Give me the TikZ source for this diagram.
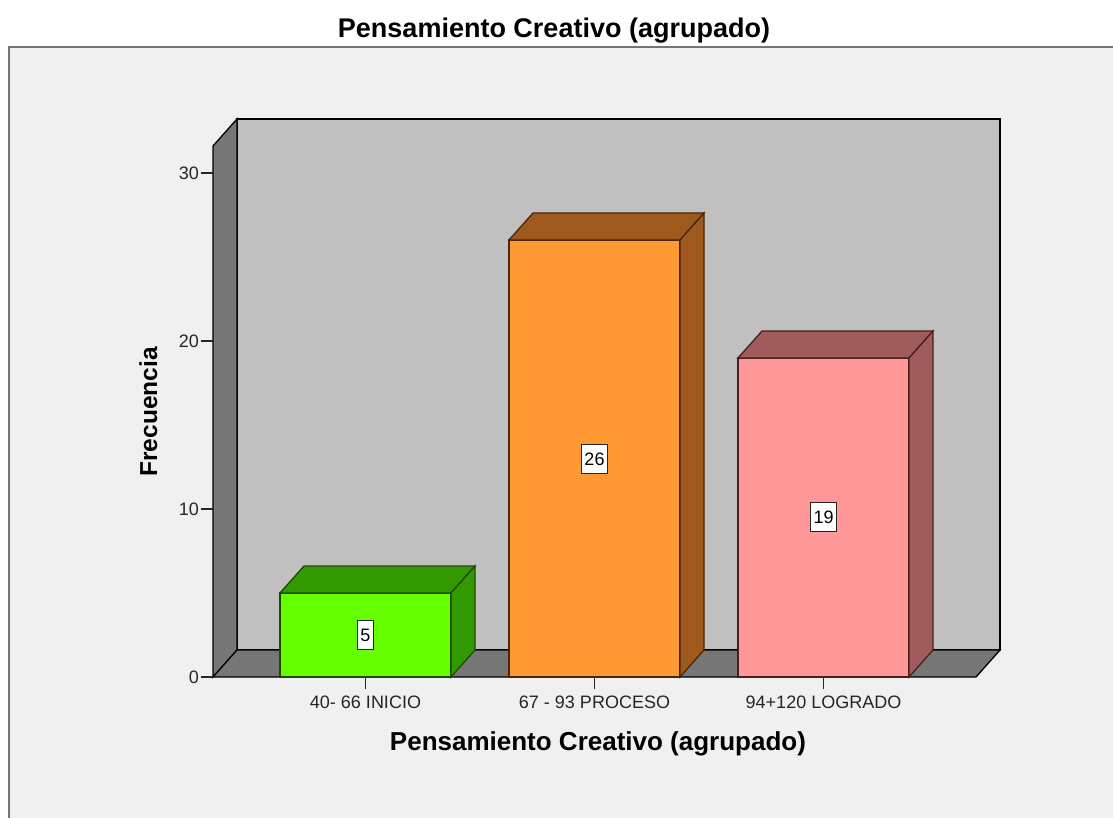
\documentclass[tikz,border=0pt]{standalone}
\usepackage{fontspec}
\setmainfont{Liberation Sans}
\definecolor{bgc}{HTML}{F0F0F0}
\definecolor{framec}{HTML}{747474}
\definecolor{wallc}{HTML}{C0C0C0}
\definecolor{sidewallc}{HTML}{777777}
\definecolor{gfront}{HTML}{66FF00}
\definecolor{gdark}{HTML}{339900}
\definecolor{gline}{HTML}{1E4A00}
\definecolor{ofront}{HTML}{FF9933}
\definecolor{odark}{HTML}{9E5A1E}
\definecolor{oline}{HTML}{4A2608}
\definecolor{pfront}{HTML}{FF9999}
\definecolor{pdark}{HTML}{A05C5C}
\definecolor{pline}{HTML}{4A1E1E}
\tikzset{
  wallline/.style={draw=black, line width=1.3pt, line join=miter},
  ticklab/.style={font=\fontsize{18}{20}\selectfont, text=black!85, inner sep=0pt},
  vallab/.style={draw=black!85, line width=1.6pt, fill=white, font=\fontsize{18}{20}\selectfont, inner xsep=3pt, inner ysep=0pt, minimum height=29pt},
  ttl/.style={font=\bfseries\fontsize{27}{30}\selectfont, inner sep=0pt},
}
\newcommand{\mybar}[5]{%
  % #1 x0, #2 top y, #3 front, #4 dark, #5 line
  \filldraw[fill=#3, draw=#5, line width=1.3pt, line join=miter] (#1,#2) rectangle (#1+171,677);
  \filldraw[fill=#4, draw=#5, line width=1.3pt, line join=miter] (#1,#2) -- (#1+24,#2-27) -- (#1+195,#2-27) -- (#1+171,#2) -- cycle;
  \filldraw[fill=#4, draw=#5, line width=1.3pt, line join=miter] (#1+171,#2) -- (#1+195,#2-27) -- (#1+195,650) -- (#1+171,677) -- cycle;
}
\begin{document}
\begin{tikzpicture}[x=1pt,y=-1pt]
\useasboundingbox (0,0) rectangle (1113,818);
\fill[white] (0,0) rectangle (1113,818);
% outer frame
\fill[bgc] (9,47) rectangle (1120,830);
\draw[framec, line width=2.2pt] (9,830) -- (9,47) -- (1120,47);
% walls
\filldraw[fill=wallc, wallline] (237,119) rectangle (1000,650);
\filldraw[fill=sidewallc, wallline] (213,677) -- (213,146) -- (237,119) -- (237,650) -- cycle;
\filldraw[fill=sidewallc, wallline] (213,677) -- (237,650) -- (1000,650) -- (976,677) -- cycle;
% y ticks
\foreach \v/\Y in {0/677,10/509,20/341,30/173} {
  \draw[black!85, line width=1.3pt] (201,\Y) -- (213,\Y);
  \node[ticklab, anchor=east] (yt\v) at (199,\Y) {\v};
}
% bars
\mybar{280}{593}{gfront}{gdark}{gline}
\mybar{509}{240}{ofront}{odark}{oline}
\mybar{738}{358}{pfront}{pdark}{pline}
% x ticks and labels
\foreach \cx/\lab/\n in {365.5/{40- 66 INICIO}/a,594.5/{67 - 93 PROCESO}/b,823.5/{94+120 LOGRADO}/c} {
  \draw[black!85, line width=1.3pt] (\cx,677) -- (\cx,689);
  \node[ticklab, anchor=base] (xl\n) at (\cx,708) {\lab};
}
% value labels
\node[vallab] (v1) at (365.5,635) {5};
\node[vallab] (v2) at (594.5,459) {26};
\node[vallab] (v3) at (823.5,517) {19};
% titles
\node[ttl, anchor=base] (title) at (554,38) {Pensamiento Creativo (agrupado)};
\node[ttl, font=\bfseries\fontsize{26}{29}\selectfont, anchor=base] (xtitle) at (598,750) {Pensamiento Creativo (agrupado)};
\node[font=\bfseries\fontsize{24.5}{27}\selectfont, inner sep=0pt, rotate=90, anchor=base] (ytitle) at (157,412) {Frecuencia};
\end{tikzpicture}
\end{document}
